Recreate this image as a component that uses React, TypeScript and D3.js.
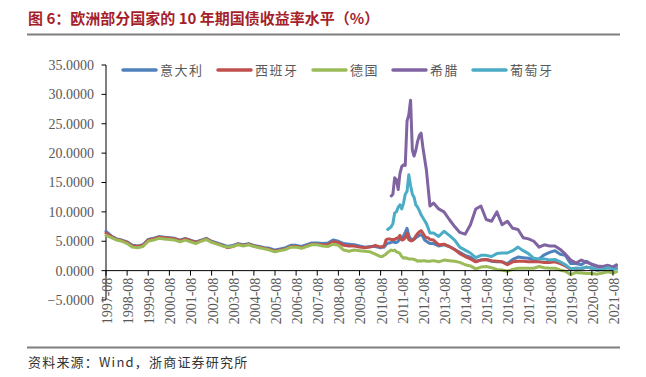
import React from "react";
import * as d3 from "d3";

// ---------- DATA ----------
const dates: string[] = [
  // quarterly 1997-08 .. 2010-08
  "1997-08","1997-11","1998-02","1998-05","1998-08","1998-11","1999-02","1999-05","1999-08","1999-11",
  "2000-02","2000-05","2000-08","2000-11","2001-02","2001-05","2001-08","2001-11","2002-02","2002-05",
  "2002-08","2002-11","2003-02","2003-05","2003-08","2003-11","2004-02","2004-05","2004-08","2004-11",
  "2005-02","2005-05","2005-08","2005-11","2006-02","2006-05","2006-08","2006-11","2007-02","2007-05",
  "2007-08","2007-11","2008-02","2008-05","2008-08","2008-11","2009-02","2009-05","2009-08","2009-11",
  "2010-02","2010-05","2010-08",
  // monthly 2010-09 .. 2012-12
  "2010-09","2010-10","2010-11","2010-12",
  "2011-01","2011-02","2011-03","2011-04","2011-05","2011-06","2011-07","2011-08","2011-09","2011-10","2011-11","2011-12",
  "2012-01","2012-02","2012-03","2012-04","2012-05","2012-06","2012-07","2012-08","2012-09","2012-10","2012-11","2012-12",
  // quarterly 2013-02 .. 2021-08, then 2021-10
  "2013-02","2013-05","2013-08","2013-11","2014-02","2014-05","2014-08","2014-11",
  "2015-02","2015-05","2015-08","2015-11","2016-02","2016-05","2016-08","2016-11",
  "2017-02","2017-05","2017-08","2017-11","2018-02","2018-05","2018-08","2018-11",
  "2019-02","2019-05","2019-08","2019-11","2020-02","2020-05","2020-08","2020-11",
  "2021-02","2021-05","2021-08","2021-10",
];

const italy: (number | null)[] = [
  6.7,5.9,5.4,5.2,4.9,4.3,4.2,4.4,5.3,5.5,
  5.8,5.7,5.6,5.5,5.2,5.5,5.2,4.9,5.2,5.5,
  5.0,4.7,4.4,4.1,4.3,4.6,4.4,4.6,4.3,4.1,
  3.9,3.8,3.5,3.7,3.9,4.3,4.3,4.1,4.4,4.7,
  4.7,4.6,4.7,5.2,5.0,4.6,4.5,4.4,4.2,4.0,
  4.1,4.1,3.9,
  4.0,4.0,4.4,4.7,
  4.7,4.8,4.9,4.8,4.8,5.0,5.6,5.3,5.9,6.5,7.2,6.0,
  5.4,5.3,5.3,5.6,5.8,6.0,6.1,5.8,5.2,5.0,4.8,4.6,
  4.6,4.2,4.4,4.1,3.6,3.1,2.6,2.3,
  1.6,1.8,1.9,1.6,1.5,1.5,1.2,1.9,
  2.3,2.2,2.1,1.8,2.0,2.7,3.1,3.4,
  2.8,2.6,1.2,1.2,1.0,1.6,1.0,0.7,
  0.6,0.9,0.6,0.9,
];

const spain: (number | null)[] = [
  6.4,5.8,5.3,5.1,4.8,4.2,4.1,4.3,5.2,5.4,
  5.7,5.6,5.5,5.4,5.1,5.4,5.1,4.8,5.1,5.4,
  4.9,4.6,4.3,3.9,4.1,4.5,4.3,4.5,4.2,4.0,
  3.8,3.6,3.3,3.5,3.7,4.1,4.1,3.9,4.2,4.5,
  4.5,4.4,4.4,4.9,4.8,4.3,4.2,4.2,4.0,3.9,
  4.0,4.3,4.0,
  4.1,4.2,5.2,5.4,
  5.4,5.3,5.3,5.3,5.5,5.6,6.0,5.2,5.3,5.6,6.4,5.3,
  5.1,5.1,5.4,5.9,6.3,6.6,6.8,6.4,5.9,5.6,5.6,5.3,
  5.2,4.4,4.5,4.1,3.6,2.9,2.4,2.0,
  1.5,1.8,1.9,1.7,1.6,1.5,1.0,1.5,
  1.6,1.6,1.5,1.5,1.5,1.4,1.4,1.5,
  1.2,0.8,0.2,0.4,0.3,0.6,0.4,0.1,
  0.2,0.5,0.3,0.4,
];

const germany: (number | null)[] = [
  6.0,5.6,5.2,5.0,4.6,4.0,3.9,4.1,5.0,5.2,
  5.5,5.4,5.3,5.2,4.9,5.2,4.9,4.6,5.0,5.3,
  4.8,4.5,4.2,4.0,4.1,4.4,4.2,4.4,4.1,3.9,
  3.7,3.5,3.2,3.4,3.6,4.0,4.0,3.8,4.1,4.4,
  4.4,4.2,4.1,4.5,4.3,3.5,3.3,3.5,3.4,3.3,
  3.2,2.8,2.4,
  2.4,2.6,2.8,3.1,
  3.3,3.5,3.4,3.5,3.2,3.1,2.9,2.4,2.1,2.2,2.1,2.0,
  2.0,2.0,1.9,1.8,1.6,1.7,1.6,1.7,1.7,1.6,1.6,1.6,
  1.7,1.5,1.8,1.7,1.6,1.4,1.0,0.8,
  0.3,0.6,0.7,0.5,0.2,0.1,-0.1,0.2,
  0.4,0.4,0.4,0.4,0.7,0.5,0.4,0.4,
  0.1,-0.1,-0.7,-0.3,-0.4,-0.5,-0.5,-0.6,
  -0.4,-0.2,-0.4,-0.2,
];

const greece: (number | null)[] = [
  null,null,null,null,null,null,null,null,null,null,
  null,null,null,null,null,null,null,null,null,null,
  null,null,null,null,null,null,null,null,null,null,
  null,null,null,null,null,null,null,null,null,null,
  null,null,null,null,null,null,null,null,null,null,
  null,null,null,
  null,null,null,null,
  null,12.7,13.0,15.8,15.5,13.8,16.5,17.7,18.0,17.9,25.5,26.5,
  29.0,20.5,19.5,20.5,22.0,23.0,23.4,21.0,19.0,17.1,14.0,11.0,
  11.5,10.5,10.0,8.7,7.5,6.5,6.2,7.8,
  10.5,11.0,8.7,8.4,10.0,7.8,8.4,7.2,
  7.0,5.6,5.4,5.0,4.0,4.4,4.2,4.2,
  3.6,2.8,1.8,1.3,1.8,1.4,1.1,0.8,
  0.7,0.9,0.6,1.0,
];

const portugal: (number | null)[] = [
  null,null,null,null,null,null,null,null,null,null,
  null,null,null,null,null,null,null,null,null,null,
  null,null,null,null,null,null,null,null,null,null,
  null,null,null,null,null,null,null,null,null,null,
  null,null,null,null,null,null,null,null,null,null,
  null,null,null,
  null,null,null,7.0,
  7.2,7.5,8.0,9.8,10.0,10.8,11.2,10.5,11.5,13.0,13.5,16.3,
  14.5,13.0,12.5,11.2,10.8,10.2,9.5,9.0,8.5,8.0,7.2,6.4,
  6.4,5.8,6.7,6.0,5.2,4.0,3.5,3.0,
  2.2,2.6,2.6,2.4,2.9,3.0,3.0,3.4,
  4.0,3.4,2.9,2.1,2.0,2.0,1.8,1.9,
  1.5,1.0,0.3,0.4,0.4,0.6,0.4,0.1,
  0.2,0.5,0.2,0.3,
];

const seriesNames = ["意大利", "西班牙", "德国", "希腊", "葡萄牙"];
const seriesColors = ["#4f81bd", "#c0504d", "#9bbb59", "#8064a2", "#4bacc6"];
const seriesValues = [italy, spain, germany, greece, portugal];

const yTicks = [-5, 0, 5, 10, 15, 20, 25, 30, 35];
const xTickYears = d3.range(1997, 2022);

const titleText = "图\u00A06：欧洲部分国家的\u00A010\u00A0年期国债收益率水平（%）";
const sourceText = "资料来源：Wind，浙商证券研究所";

// ---------- CHART ----------
const parse = d3.timeParse("%Y-%m");

export default function App() {
  const W = 646, H = 377;
  const x = d3.scaleTime()
    .domain([new Date(1997, 7, 1), new Date(2021, 7, 1)])
    .range([106, 613]);
  const y = d3.scaleLinear().domain([-5, 35]).range([300, 65]);
  const parsed = dates.map((s) => parse(s) as Date);
  const fmtY = d3.format(".4f");
  const fmtX = d3.timeFormat("%Y-%m");

  const line = d3.line<{ d: Date; v: number | null }>()
    .defined((p) => p.v != null)
    .x((p) => x(p.d))
    .y((p) => y(p.v as number));

  const axisColor = "#000";
  const labelColor = "#595959";
  const serif = "'Liberation Serif', 'Times New Roman', 'Noto Sans CJK SC', serif";

  const legendX = [123, 218, 313, 393, 473];

  return (
    <svg width={W} height={H} style={{ position: "absolute", left: 0, top: 0, background: "#fff" }}
      xmlns="http://www.w3.org/2000/svg">
      <rect x={0} y={0} width={W} height={H} fill="#fff" />
      {/* title */}
      <text x={28} y={24} fill="#a51f2b" fontSize={15} fontWeight="bold"
        fontFamily="'Noto Sans CJK SC', sans-serif">{titleText}</text>
      <line x1={27} x2={620} y1={34.5} y2={34.5} stroke="#7f7f7f" strokeWidth={2} />

      {/* legend */}
      {seriesNames.map((n, i) => (
        <g key={n}>
          <line x1={legendX[i]} x2={legendX[i] + 33} y1={70} y2={70}
            stroke={seriesColors[i]} strokeWidth={3.5} strokeLinecap="round" />
          <text x={legendX[i] + 37} y={74.5} fontSize={13} fill={labelColor}
            letterSpacing={1.5} fontFamily="'Noto Sans CJK SC', sans-serif">{n}</text>
        </g>
      ))}

      {/* y axis */}
      <line x1={106} x2={106} y1={y(35)} y2={y(-5)} stroke={axisColor} strokeWidth={1} />
      {yTicks.map((t) => (
        <g key={t}>
          <line x1={101.5} x2={106} y1={y(t)} y2={y(t)} stroke={axisColor} strokeWidth={1} />
          <text x={94} y={y(t)} dy="0.35em" textAnchor="end" fontSize={14}
            fill={labelColor} fontFamily={serif}>{fmtY(t)}</text>
        </g>
      ))}

      {/* series */}
      {seriesValues.map((vals, i) => (
        <path key={seriesNames[i]}
          d={line(parsed.map((d, j) => ({ d, v: vals[j] }))) || ""}
          fill="none" stroke={seriesColors[i]} strokeWidth={3}
          strokeLinejoin="round" strokeLinecap="round" />
      ))}

      {/* x axis */}
      <line x1={106} x2={613} y1={y(0)} y2={y(0)} stroke={axisColor} strokeWidth={1} />
      {xTickYears.map((yr) => {
        const d = new Date(yr, 7, 1);
        const px = x(d);
        return (
          <g key={yr}>
            <line x1={px} x2={px} y1={y(0)} y2={y(0) + 5} stroke={axisColor} strokeWidth={1} />
            <text transform={`translate(${px + 1},${y(0) + 7}) rotate(-90)`} textAnchor="end"
              dy="0.35em" fontSize={14} fill={labelColor} fontFamily={serif}>{fmtX(d)}</text>
          </g>
        );
      })}

      {/* source */}
      <line x1={27} x2={620} y1={347.5} y2={347.5} stroke="#7f7f7f" strokeWidth={2} />
      <text x={28} y={367} fontSize={13} fill="#333" letterSpacing={1.2}
        fontFamily="'Noto Sans CJK SC', sans-serif">{sourceText}</text>
    </svg>
  );
}
